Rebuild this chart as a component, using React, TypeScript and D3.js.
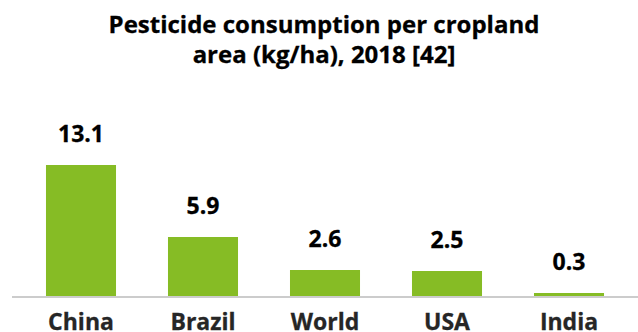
import React from "react";
import * as d3 from "d3";

const categories = ["China", "Brazil", "World", "USA", "India"];
const values = [13.1, 5.9, 2.6, 2.5, 0.3];
const titleLines = ["Pesticide consumption per cropland", "area (kg/ha), 2018 [42]"];

const W = 638;
const H = 332;
const baseline = 296;

export default function App() {
  const x = d3
    .scaleBand<string>()
    .domain(categories)
    .range([20, 630])
    .paddingInner(0.426)
    .paddingOuter(0.213);
  const y = d3.scaleLinear().domain([0, 13.1]).range([baseline, baseline - 131]);

  const font = "'Open Sans', sans-serif";

  return (
    <svg
      width={W}
      height={H}
      style={{ position: "absolute", left: 0, top: 0, display: "block", background: "#fff" }}
    >
      <text
        x={324}
        y={33}
        textAnchor="middle"
        fontFamily={font}
        fontWeight={700}
        fontSize={24}
        fill="#000"
        stroke="#000"
        strokeWidth={0.3}
      >
        {titleLines.map((t, i) => (
          <tspan key={i} x={324} dy={i === 0 ? 0 : 30}>
            {t}
          </tspan>
        ))}
      </text>
      {categories.map((c, i) => {
        const v = values[i];
        const bx = x(c) as number;
        const cx = bx + x.bandwidth() / 2;
        return (
          <g key={c}>
            <rect x={bx} y={y(v)} width={x.bandwidth()} height={baseline - y(v)} fill="#86BC25" />
            <text
              x={cx}
              y={y(v) - 23}
              textAnchor="middle"
              fontFamily={font}
              fontWeight={700}
              fontSize={23}
              fill="#000"
              stroke="#000"
              strokeWidth={0.3}
            >
              {d3.format(".1f")(v)}
            </text>
            <text
              x={cx}
              y={329.5}
              textAnchor="middle"
              fontFamily={font}
              fontWeight={700}
              fontSize={23}
              fill="#262626"
              stroke="#262626"
              strokeWidth={0.3}
            >
              {c}
            </text>
          </g>
        );
      })}
      <line x1={12} x2={638} y1={297} y2={297} stroke="#cccccc" strokeWidth={2} />
    </svg>
  );
}
